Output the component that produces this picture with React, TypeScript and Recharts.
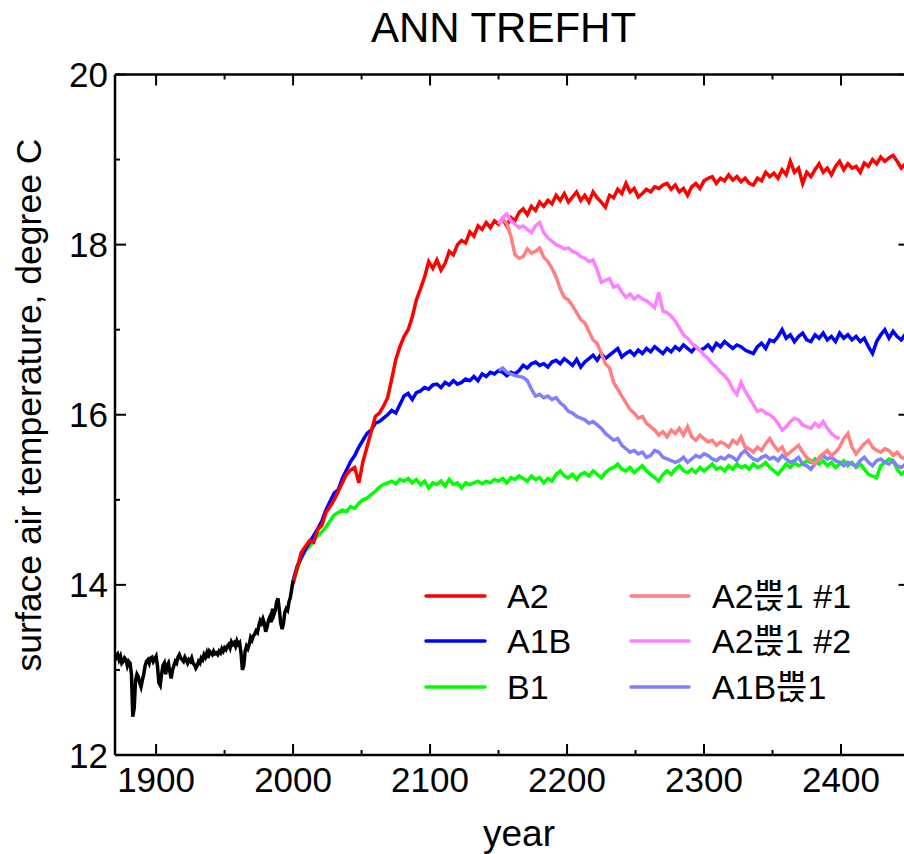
import React from 'react';
import { LineChart, Line, XAxis, YAxis, Legend, Customized } from 'recharts';

const FONT = '"Liberation Sans", Arial, "Noto Sans CJK KR", sans-serif';

// ---------- categories / ticks ----------
const HIST_START = 1870;
const SCEN_START = 2000;
const BRANCH_START = 2150;
const STEP = 3;
const X_DOMAIN = [1870, 2450];
const Y_DOMAIN = [12, 20];
const xTicks = [1900, 1950, 2000, 2050, 2100, 2150, 2200, 2250, 2300, 2350, 2400];
const yTicks = [12, 13, 14, 15, 16, 17, 18, 19, 20];

const seriesNames = ['A2', 'A1B', 'B1', 'A2쁝1 #1', 'A2쁝1 #2', 'A1B쁝1'];
const seriesColors = ['#ff0000', '#0000ff', '#00ff00', '#ff8080', '#ff80ff', '#8080ff'];

// ---------- values ----------
// historical 1870..2000 annual
const histValues = [
  13.20, 13.15, 13.18, 13.12, 13.16, 13.08, 13.10, 13.14, 13.12, 13.05,
  13.10, 13.08, 12.95, 12.45, 12.55, 12.88, 12.95, 12.92, 12.85, 12.80,
  12.88, 12.95, 13.05, 13.10, 13.12, 13.08, 13.14, 13.15, 13.10, 13.13,
  13.16, 13.05, 12.85, 12.82, 12.95, 13.05, 13.08, 12.95, 13.05, 13.08,
  12.98, 12.90, 13.00, 13.05, 13.10, 13.08, 13.15, 13.18, 13.14, 13.12,
  13.10, 13.15, 13.12, 13.08, 13.12, 13.10, 13.14, 13.08, 13.06, 13.02,
  13.05, 13.10, 13.08, 13.14, 13.12, 13.18, 13.15, 13.20, 13.14, 13.22,
  13.20, 13.18, 13.22, 13.19, 13.20, 13.18, 13.22, 13.20, 13.25, 13.22,
  13.26, 13.24, 13.28, 13.30, 13.26, 13.33, 13.30, 13.32, 13.28, 13.34,
  13.30, 13.32, 13.20, 13.00, 13.05, 13.22, 13.28, 13.25, 13.30, 13.38,
  13.35, 13.40, 13.42, 13.46, 13.44, 13.52, 13.58, 13.55, 13.60, 13.55,
  13.45, 13.50, 13.58, 13.62, 13.56, 13.72, 13.65, 13.70, 13.80, 13.84,
  13.70, 13.55, 13.48, 13.55, 13.68, 13.72, 13.70, 13.80, 13.85, 13.95,
  14.05,
];

// scenarios 2000..2447 every 3 years
const a2Values = [
  14.02, 14.20, 14.38, 14.45, 14.52, 14.50, 14.65, 14.70, 14.85, 14.92,
  15.00, 15.10, 15.20, 15.30, 15.35, 15.38, 15.20, 15.45, 15.62, 15.80,
  15.98, 16.02, 16.10, 16.20, 16.42, 16.65, 16.80, 16.92, 17.00, 17.15,
  17.35, 17.48, 17.62, 17.80, 17.72, 17.82, 17.70, 17.78, 17.92, 17.88,
  18.00, 18.05, 18.02, 18.15, 18.10, 18.22, 18.18, 18.26, 18.20, 18.28,
  18.24, 18.30, 18.22, 18.32, 18.28, 18.38, 18.42, 18.35, 18.45, 18.40,
  18.50, 18.45, 18.52, 18.48, 18.58, 18.52, 18.60, 18.50, 18.56, 18.62,
  18.52, 18.58, 18.50, 18.62, 18.55, 18.50, 18.44, 18.58, 18.55, 18.65,
  18.60, 18.72, 18.62, 18.66, 18.56, 18.60, 18.65, 18.62, 18.68, 18.66,
  18.70, 18.72, 18.65, 18.70, 18.62, 18.66, 18.58, 18.68, 18.72, 18.66,
  18.75, 18.78, 18.80, 18.72, 18.78, 18.75, 18.82, 18.76, 18.80, 18.74,
  18.78, 18.72, 18.70, 18.78, 18.75, 18.85, 18.80, 18.84, 18.78, 18.88,
  18.82, 18.98, 18.85, 18.90, 18.72, 18.85, 18.80, 18.88, 18.95, 18.85,
  18.90, 18.82, 18.92, 18.98, 18.88, 18.95, 18.90, 18.92, 18.85, 18.96,
  18.92, 19.00, 18.95, 19.03, 18.98, 19.02, 19.05, 18.98, 18.90, 18.95,
];

const a1bValues = [
  14.05, 14.22, 14.32, 14.42, 14.50, 14.58, 14.66, 14.75, 14.88, 14.98,
  15.08, 15.12, 15.25, 15.35, 15.45, 15.52, 15.62, 15.70, 15.78, 15.82,
  15.90, 15.92, 15.96, 16.00, 16.05, 16.02, 16.12, 16.22, 16.25, 16.18,
  16.26, 16.28, 16.32, 16.30, 16.35, 16.36, 16.32, 16.38, 16.35, 16.40,
  16.36, 16.38, 16.42, 16.40, 16.45, 16.40, 16.48, 16.45, 16.50, 16.48,
  16.52, 16.50, 16.46, 16.50, 16.48, 16.52, 16.58, 16.55, 16.60, 16.62,
  16.58, 16.60, 16.56, 16.62, 16.64, 16.60, 16.66, 16.62, 16.58, 16.65,
  16.56, 16.62, 16.66, 16.70, 16.64, 16.72, 16.66, 16.70, 16.74, 16.78,
  16.68, 16.72, 16.75, 16.70, 16.76, 16.72, 16.78, 16.74, 16.80, 16.76,
  16.72, 16.78, 16.74, 16.80, 16.76, 16.82, 16.78, 16.74, 16.80, 16.76,
  16.78, 16.82, 16.76, 16.84, 16.80, 16.86, 16.82, 16.78, 16.82, 16.80,
  16.76, 16.74, 16.72, 16.80, 16.84, 16.78, 16.88, 16.86, 16.92, 17.00,
  16.90, 16.94, 16.86, 16.92, 16.96, 16.88, 16.86, 16.94, 16.90, 16.96,
  16.88, 16.92, 16.86, 16.96, 16.90, 16.94, 16.88, 16.92, 16.86, 16.90,
  16.80, 16.72, 16.86, 16.94, 17.00, 16.90, 16.98, 16.92, 16.88, 16.95,
];

const b1Values = [
  14.02, 14.18, 14.32, 14.40, 14.45, 14.52, 14.58, 14.62, 14.68, 14.75,
  14.82, 14.85, 14.88, 14.86, 14.92, 14.90, 14.96, 15.00, 15.02, 15.06,
  15.10, 15.15, 15.18, 15.20, 15.22, 15.19, 15.24, 15.22, 15.25, 15.20,
  15.24, 15.18, 15.22, 15.14, 15.20, 15.18, 15.22, 15.16, 15.24, 15.18,
  15.20, 15.14, 15.20, 15.18, 15.20, 15.22, 15.19, 15.22, 15.20, 15.24,
  15.22, 15.25, 15.20, 15.26, 15.24, 15.28, 15.25, 15.22, 15.28, 15.24,
  15.26, 15.20, 15.25, 15.22, 15.30, 15.34, 15.28, 15.26, 15.30, 15.24,
  15.30, 15.32, 15.28, 15.34, 15.30, 15.26, 15.32, 15.36, 15.38, 15.42,
  15.36, 15.34, 15.38, 15.32, 15.36, 15.40, 15.34, 15.30, 15.26, 15.22,
  15.30, 15.34, 15.30, 15.36, 15.40, 15.34, 15.32, 15.36, 15.32, 15.38,
  15.34, 15.38, 15.42, 15.36, 15.38, 15.34, 15.40, 15.36, 15.42, 15.38,
  15.40, 15.36, 15.42, 15.38, 15.40, 15.44, 15.38, 15.34, 15.30, 15.36,
  15.42, 15.38, 15.44, 15.40, 15.42, 15.46, 15.44, 15.48, 15.42, 15.46,
  15.40, 15.44, 15.38, 15.42, 15.46, 15.40, 15.44, 15.38, 15.42, 15.36,
  15.30, 15.28, 15.26, 15.40, 15.44, 15.48, 15.46, 15.36, 15.30, 15.34,
];

// branches from 2150, every 3 years
const a2b1Values = [
  18.24, 18.30, 18.25, 18.10, 17.88, 17.84, 17.86, 17.95, 17.90, 17.92,
  17.96, 17.85, 17.80, 17.72, 17.62, 17.48, 17.38, 17.35, 17.28, 17.20,
  17.12, 17.08, 16.98, 16.88, 16.84, 16.72, 16.60, 16.55, 16.38, 16.30,
  16.22, 16.14, 16.06, 16.02, 15.96, 15.98, 15.90, 15.86, 15.82, 15.76,
  15.80, 15.74, 15.82, 15.78, 15.84, 15.76, 15.86, 15.74, 15.70, 15.76,
  15.72, 15.68, 15.70, 15.64, 15.68, 15.66, 15.62, 15.70, 15.66, 15.74,
  15.62, 15.60, 15.56, 15.62, 15.58, 15.66, 15.72, 15.64, 15.58, 15.62,
  15.52, 15.56, 15.60, 15.64, 15.56, 15.50, 15.46, 15.42, 15.50, 15.54,
  15.58, 15.52, 15.56, 15.62, 15.72, 15.78, 15.62, 15.54, 15.60, 15.66,
  15.70, 15.62, 15.58, 15.56, 15.60, 15.58, 15.52, 15.56, 15.50, 15.48,
];

const a2b2Values = [
  18.24, 18.32, 18.36, 18.28, 18.24, 18.20, 18.22, 18.18, 18.14, 18.22,
  18.26, 18.14, 18.08, 18.04, 18.00, 17.98, 17.95, 17.96, 17.92, 17.90,
  17.86, 17.84, 17.80, 17.82, 17.70, 17.56, 17.58, 17.60, 17.50, 17.52,
  17.44, 17.38, 17.42, 17.36, 17.40, 17.36, 17.34, 17.30, 17.26, 17.44,
  17.22, 17.20, 17.16, 17.10, 17.02, 16.94, 16.90, 16.84, 16.80, 16.76,
  16.70, 16.66, 16.60, 16.56, 16.50, 16.46, 16.40, 16.30, 16.24, 16.38,
  16.28, 16.20, 16.12, 16.04, 16.06, 16.02, 16.00, 15.96, 15.90, 15.82,
  15.86, 15.92, 15.96, 15.94, 15.88, 15.86, 15.84, 15.90, 15.86, 15.92,
  15.84, 15.78, 15.74, 15.72,
];

const a1bb1Values = [
  16.52, 16.55, 16.50, 16.48, 16.46, 16.45, 16.44, 16.40, 16.30, 16.22,
  16.24, 16.20, 16.22, 16.18, 16.20, 16.14, 16.10, 16.04, 16.02, 15.98,
  15.96, 15.94, 15.90, 15.92, 15.88, 15.84, 15.78, 15.74, 15.70, 15.72,
  15.64, 15.60, 15.56, 15.58, 15.54, 15.56, 15.50, 15.52, 15.58, 15.56,
  15.50, 15.48, 15.46, 15.44, 15.46, 15.50, 15.44, 15.48, 15.52, 15.50,
  15.54, 15.52, 15.48, 15.46, 15.50, 15.48, 15.52, 15.50, 15.46, 15.54,
  15.58, 15.52, 15.48, 15.46, 15.50, 15.52, 15.48, 15.50, 15.46, 15.52,
  15.48, 15.44, 15.46, 15.50, 15.42, 15.40, 15.36, 15.42, 15.48, 15.52,
  15.48, 15.50, 15.46, 15.44, 15.40, 15.44, 15.42, 15.40, 15.46, 15.50,
  15.44, 15.40, 15.46, 15.48, 15.44, 15.42, 15.46, 15.40, 15.38, 15.42,
];

// ---------- tables built from the arrays ----------
const toPoints = (start: number, step: number, vals: number[]) =>
  vals.map((v, i) => ({ year: start + i * step, t: v }));

const histData = toPoints(HIST_START, 1, histValues);
const a2Data = toPoints(SCEN_START, STEP, a2Values);
const a1bData = toPoints(SCEN_START, STEP, a1bValues);
const b1Data = toPoints(SCEN_START, STEP, b1Values);
const a2b1Data = toPoints(BRANCH_START, STEP, a2b1Values);
const a2b2Data = toPoints(BRANCH_START, STEP, a2b2Values);
const a1bb1Data = toPoints(BRANCH_START, STEP, a1bb1Values);

// ---------- ticks ----------
const TICK_W = 2;
const MAJOR = 11;
const MINOR = 5;
const TICK_FONT = 35;

const BottomTick = (p: any) => {
  const v = p.payload.value;
  const major = v % 100 === 0;
  return (
    <g>
      <line x1={p.x} x2={p.x} y1={p.y} y2={p.y - (major ? MAJOR : MINOR)} stroke="#000" strokeWidth={TICK_W} />
      {major && (
        <text x={p.x} y={p.y + 37} textAnchor="middle" fontSize={TICK_FONT} fontFamily={FONT} fill="#000">
          {v}
        </text>
      )}
    </g>
  );
};

const TopTick = (p: any) => {
  const v = p.payload.value;
  const major = v % 100 === 0;
  return <line x1={p.x} x2={p.x} y1={p.y} y2={p.y + (major ? MAJOR : MINOR)} stroke="#000" strokeWidth={TICK_W} />;
};

const LeftTick = (p: any) => {
  const v = p.payload.value;
  const major = v % 2 === 0;
  return (
    <g>
      <line x1={p.x} x2={p.x + (major ? MAJOR : MINOR)} y1={p.y} y2={p.y} stroke="#000" strokeWidth={TICK_W} />
      {major && (
        <text x={p.x - 7} y={p.y + 12.5} textAnchor="end" fontSize={TICK_FONT} fontFamily={FONT} fill="#000">
          {v}
        </text>
      )}
    </g>
  );
};

const RightTick = (p: any) => {
  const v = p.payload.value;
  const major = v % 2 === 0;
  return <line x1={p.x} x2={p.x - (major ? MAJOR : MINOR)} y1={p.y} y2={p.y} stroke="#000" strokeWidth={TICK_W} />;
};

// ---------- texts ----------
const Labels = () => (
  <g fontFamily={FONT} fill="#000">
    <text x={503.5} y={42.3} textAnchor="middle" fontSize={42}>ANN TREFHT</text>
    <text x={519} y={846} textAnchor="middle" fontSize={37}>year</text>
    <text transform="translate(41,405) rotate(-90)" textAnchor="middle" fontSize={35.5}>
      surface air temperature, degree C
    </text>
  </g>
);

const LegendBox = () => {
  const rows = [26, 71, 117];
  const cols = [
    { x1: 6, x2: 65, tx: 87 },
    { x1: 211, x2: 269, tx: 292 },
  ];
  return (
    <svg width={480} height={140} style={{ display: 'block', overflow: 'visible' }}>
      {seriesNames.map((name, i) => {
        const c = cols[Math.floor(i / 3)];
        const y = rows[i % 3];
        return (
          <g key={name}>
            <line x1={c.x1} x2={c.x2} y1={y} y2={y} stroke={seriesColors[i]} strokeWidth={3.5} strokeLinecap="round" />
            <text x={c.tx} y={y + 12} fontSize={34} fontFamily={FONT} fill="#000">
              {name}
            </text>
          </g>
        );
      })}
    </svg>
  );
};

const LW = 3.5;
const AXIS_SIZE = 30;
const CHART_W = 980;

export default function App() {
  return (
    <div style={{ position: 'absolute', left: 0, top: 0, width: 904, height: 854, overflow: 'hidden', background: '#fff' }}>
      <LineChart
        width={CHART_W}
        height={854}
        margin={{ top: 74.5 - AXIS_SIZE, left: 115 - AXIS_SIZE, right: CHART_W - 909.5 - AXIS_SIZE, bottom: 99 - AXIS_SIZE }}
      >
        <XAxis
          xAxisId="bottom"
          dataKey="year"
          type="number"
          domain={X_DOMAIN}
          allowDataOverflow
          ticks={xTicks}
          interval={0}
          height={AXIS_SIZE}
          tickSize={0}
          tickMargin={0}
          tickLine={false}
          tick={<BottomTick />}
          axisLine={{ stroke: '#000', strokeWidth: 2.5 }}
        />
        <XAxis
          xAxisId="top"
          orientation="top"
          dataKey="year"
          type="number"
          domain={X_DOMAIN}
          allowDataOverflow
          ticks={xTicks}
          interval={0}
          height={AXIS_SIZE}
          tickSize={0}
          tickMargin={0}
          tickLine={false}
          tick={<TopTick />}
          axisLine={{ stroke: '#000', strokeWidth: 2.5 }}
        />
        <YAxis
          yAxisId="left"
          type="number"
          domain={Y_DOMAIN}
          allowDataOverflow
          ticks={yTicks}
          interval={0}
          width={AXIS_SIZE}
          tickSize={0}
          tickMargin={0}
          tickLine={false}
          tick={<LeftTick />}
          axisLine={{ stroke: '#000', strokeWidth: 2.5 }}
        />
        <YAxis
          yAxisId="right"
          orientation="right"
          type="number"
          domain={Y_DOMAIN}
          allowDataOverflow
          ticks={yTicks}
          interval={0}
          width={AXIS_SIZE}
          tickSize={0}
          tickMargin={0}
          tickLine={false}
          tick={<RightTick />}
          axisLine={{ stroke: '#000', strokeWidth: 2.5 }}
        />
        <Line xAxisId="bottom" yAxisId="left" data={b1Data} dataKey="t" name={seriesNames[2]} stroke={seriesColors[2]} strokeWidth={LW} dot={false} isAnimationActive={false} />
        <Line xAxisId="bottom" yAxisId="left" data={a1bData} dataKey="t" name={seriesNames[1]} stroke={seriesColors[1]} strokeWidth={LW} dot={false} isAnimationActive={false} />
        <Line xAxisId="bottom" yAxisId="left" data={a2Data} dataKey="t" name={seriesNames[0]} stroke={seriesColors[0]} strokeWidth={LW} dot={false} isAnimationActive={false} />
        <Line xAxisId="bottom" yAxisId="left" data={a1bb1Data} dataKey="t" name={seriesNames[5]} stroke={seriesColors[5]} strokeWidth={LW} dot={false} isAnimationActive={false} />
        <Line xAxisId="bottom" yAxisId="left" data={a2b1Data} dataKey="t" name={seriesNames[3]} stroke={seriesColors[3]} strokeWidth={LW} dot={false} isAnimationActive={false} />
        <Line xAxisId="bottom" yAxisId="left" data={a2b2Data} dataKey="t" name={seriesNames[4]} stroke={seriesColors[4]} strokeWidth={LW} dot={false} isAnimationActive={false} />
        <Line xAxisId="bottom" yAxisId="left" data={histData} dataKey="t" name="historical" stroke="#000" strokeWidth={LW} dot={false} isAnimationActive={false} legendType="none" />
        <Legend
          layout="vertical"
          align="center"
          verticalAlign="middle"
          content={<LegendBox />}
          wrapperStyle={{ left: 420, top: 570, width: 480, height: 140 }}
        />
        <Customized component={<Labels />} />
      </LineChart>
    </div>
  );
}
